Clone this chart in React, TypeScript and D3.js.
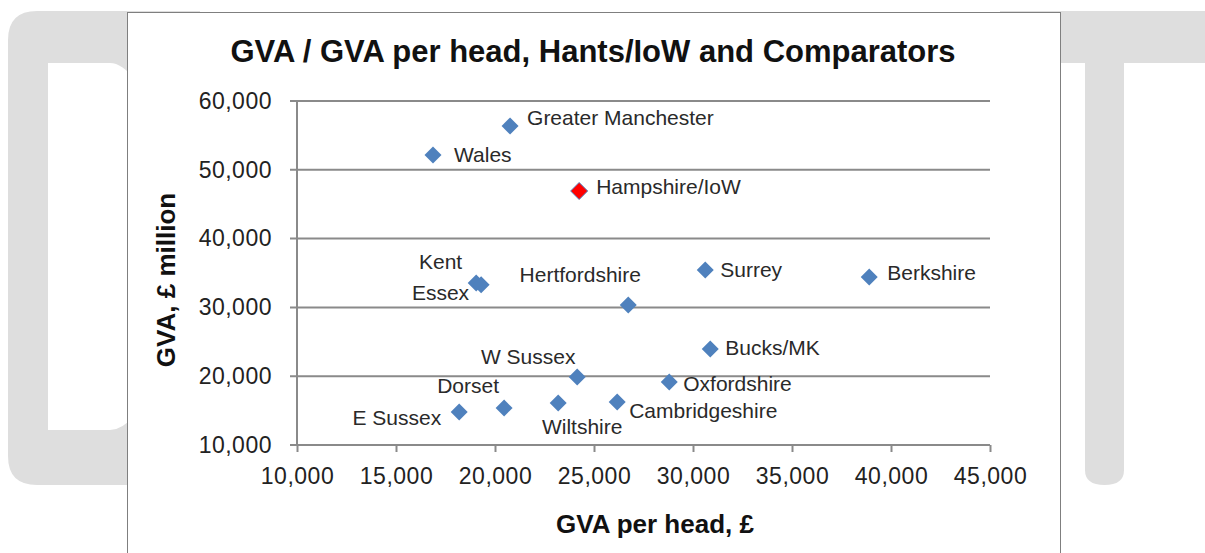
import React, { useEffect, useRef } from 'react';
import * as d3 from 'd3';

const areas = ['Greater Manchester', 'Wales', 'Hampshire/IoW', 'Kent', 'Essex', 'Hertfordshire', 'Surrey', 'Berkshire', 'Bucks/MK', 'W Sussex', 'Oxfordshire', 'Cambridgeshire', 'Wiltshire', 'Dorset', 'E Sussex'];
const gvaPerHead = [20760, 16870, 24250, 19050, 19300, 26730, 30620, 38900, 30870, 24150, 28800, 26170, 23190, 20460, 18190];
const gvaMillion = [56370, 52150, 46920, 33550, 33300, 30350, 35440, 34420, 23950, 19880, 19160, 16250, 16100, 15380, 14800];
const highlight = 'Hampshire/IoW';

const xTicks = [10000, 15000, 20000, 25000, 30000, 35000, 40000, 45000];
const yTicks = [10000, 20000, 30000, 40000, 50000, 60000];

// where each label sits relative to its marker: [dx, dy, anchor]
const labelPlace: [number, number, string][] = [
  [17, -8, 'start'], [21, 0, 'start'], [17, -4, 'start'], [-14, -21, 'end'], [-12, 8, 'end'],
  [-48, -30, 'middle'], [15, 0, 'start'], [18, -4, 'start'], [15, -1, 'start'], [-49, -20, 'middle'],
  [14, 2, 'start'], [12, 9, 'start'], [24, 24, 'middle'], [-36, -22, 'middle'], [-18, 6, 'end'],
];

const W = 1205, H = 553;
const FONT = 'Liberation Sans, Arial, sans-serif';

export default function App() {
  const ref = useRef<SVGSVGElement>(null);

  useEffect(() => {
    const svg = d3.select(ref.current);
    svg.selectAll('*').remove();

    // watermark letters behind the chart
    const wm = svg.append('g').attr('fill', '#dedede');
    wm.append('path')
      .attr('fill-rule', 'evenodd')
      .attr('d', 'M8,40 Q8,11 37,11 L200,11 L200,485 L37,485 Q8,485 8,456 Z M48,63 L110,63 Q122,63 135,80 L135,415 Q122,430 110,430 L48,430 Z');
    wm.append('rect').attr('x', 1000).attr('y', 11).attr('width', 205).attr('height', 52);
    wm.append('path').attr('d', 'M1085,60 L1124,60 L1124,470 Q1124,485 1104.5,485 Q1085,485 1085,470 Z');

    // chart box
    svg.append('rect')
      .attr('x', 127.5).attr('y', 12.5).attr('width', 933).attr('height', 560)
      .attr('fill', '#fff').attr('stroke', '#7f7f7f').attr('stroke-width', 1);

    const left = 297, right = 990, top = 101, bottom = 445;
    const x = d3.scaleLinear().domain([10000, 45000]).range([left, right]);
    const y = d3.scaleLinear().domain([10000, 60000]).range([bottom, top]);
    const fmt = d3.format(',');

    const g = svg.append('g').style('font-family', FONT);

    // gridlines
    g.selectAll('.grid').data(yTicks).join('line')
      .attr('x1', left - 7).attr('x2', right)
      .attr('y1', d => y(d)).attr('y2', d => y(d))
      .attr('stroke', '#8a8a8a').attr('stroke-width', 2);

    g.append('line').attr('x1', left).attr('x2', left).attr('y1', top).attr('y2', bottom)
      .attr('stroke', '#8a8a8a').attr('stroke-width', 2);

    const xAxis = g.append('g').attr('transform', `translate(0,${bottom})`)
      .call(d3.axisBottom(x).tickValues(xTicks).tickSize(7).tickFormat(d => fmt(d as number)));
    xAxis.select('.domain').remove();
    xAxis.selectAll('line').attr('stroke', '#8a8a8a').attr('stroke-width', 2);
    xAxis.selectAll('text').attr('font-size', 23).attr('font-family', FONT).attr('fill', '#222')
      .attr('letter-spacing', 0.5).attr('dy', 0).attr('y', 39);

    const yAxis = g.append('g').attr('transform', `translate(${left},0)`)
      .call(d3.axisLeft(y).tickValues(yTicks).tickSize(0).tickFormat(d => fmt(d as number)));
    yAxis.select('.domain').remove();
    yAxis.selectAll('text').attr('font-size', 23).attr('font-family', FONT).attr('fill', '#222')
      .attr('letter-spacing', 0.5).attr('x', -25);

    // markers
    const pts = areas.map((a, i) => ({ a, px: x(gvaPerHead[i]), py: y(gvaMillion[i]), i }));
    const diamond = (cx: number, cy: number, r: number) => `M${cx},${cy - r}L${cx + r},${cy}L${cx},${cy + r}L${cx - r},${cy}Z`;

    g.selectAll('.pt').data(pts).join('path')
      .attr('d', d => diamond(d.px, d.py, 8.5))
      .attr('fill', d => d.a === highlight ? '#ff0000' : '#4f81bd')
      .attr('stroke', d => d.a === highlight ? '#4f81bd' : 'none')
      .attr('stroke-width', 1);

    g.selectAll('.lbl').data(pts).join('text')
      .attr('x', d => d.px + labelPlace[d.i][0])
      .attr('y', d => d.py + labelPlace[d.i][1])
      .attr('dy', '0.35em')
      .attr('text-anchor', d => labelPlace[d.i][2])
      .attr('font-size', 21)
      .attr('fill', '#2a2a2a')
      .text(d => d.a);

    // titles
    g.append('text').attr('x', 593).attr('y', 62).attr('text-anchor', 'middle')
      .attr('font-size', 31).attr('font-weight', 'bold').attr('fill', '#111')
      .text('GVA / GVA per head, Hants/IoW and Comparators');

    g.append('text').attr('x', 655).attr('y', 533).attr('text-anchor', 'middle')
      .attr('font-size', 26).attr('font-weight', 'bold').attr('fill', '#111')
      .text('GVA per head, £');

    g.append('text').attr('transform', 'translate(175,280) rotate(-90)').attr('text-anchor', 'middle')
      .attr('font-size', 26).attr('font-weight', 'bold').attr('fill', '#111')
      .text('GVA, £ million');
  }, []);

  return (
    <svg ref={ref} width={W} height={H} style={{ position: 'absolute', left: 0, top: 0, background: '#fff' }} />
  );
}
